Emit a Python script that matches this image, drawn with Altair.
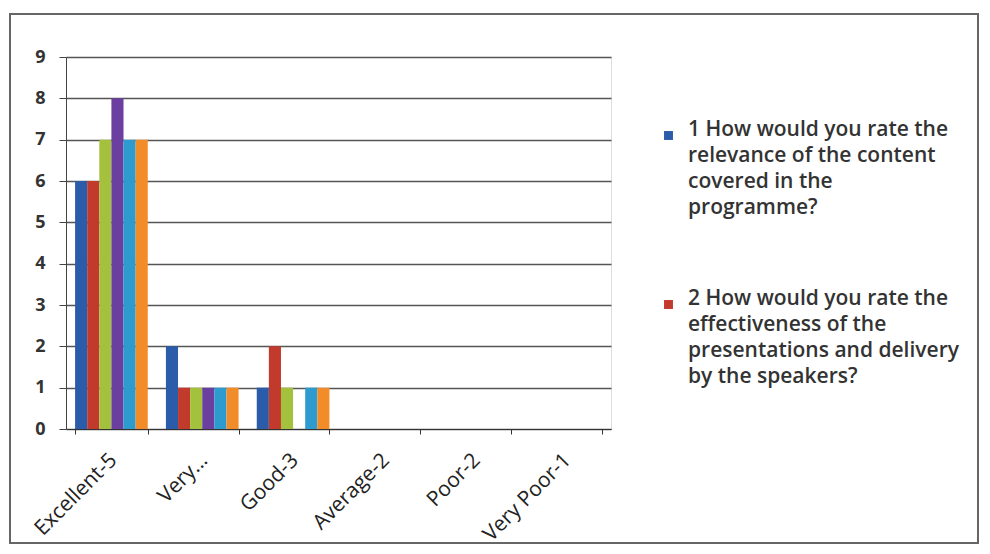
import altair as alt
import pandas as pd

categories = ["Excellent-5", "Very...", "Good-3", "Average-2", "Poor-2", "Very Poor-1"]
series_names = [
    "1 How would you rate the relevance of the content covered in the programme?",
    "2 How would you rate the effectiveness of the presentations and delivery by the speakers?",
    "3",
    "4",
    "5",
    "6",
]
s1 = [6, 2, 1, 0, 0, 0]
s2 = [6, 1, 2, 0, 0, 0]
s3 = [7, 1, 1, 0, 0, 0]
s4 = [8, 1, 0, 0, 0, 0]
s5 = [7, 1, 1, 0, 0, 0]
s6 = [7, 1, 1, 0, 0, 0]
colors = ["#2a5caa", "#c23a2c", "#a3c13d", "#6b3fa0", "#2e9bcf", "#f28c28"]
legend_lines = [
    ["1 How would you rate the", "relevance of the content", "covered in the", "programme?"],
    ["2 How would you rate the", "effectiveness of the", "presentations and delivery", "by the speakers?"],
]

rows = []
for name, vals in zip(series_names, [s1, s2, s3, s4, s5, s6]):
    for c, v in zip(categories, vals):
        rows.append({"category": c, "series": name, "value": v})
df = pd.DataFrame(rows)

def js_list(lines):
    return "[" + ",".join("'" + l + "'" for l in lines) + "]"

label_expr = (
    f"datum.label == '{series_names[0]}' ? {js_list(legend_lines[0])} : "
    f"datum.label == '{series_names[1]}' ? {js_list(legend_lines[1])} : datum.label"
)

FONT = "Open Sans"
W, H = 545, 372

bars = alt.Chart(df).mark_bar().encode(
    x=alt.X(
        "category:N",
        sort=categories,
        scale=alt.Scale(paddingInner=0.2, paddingOuter=0.1),
        axis=alt.Axis(
            title=None,
            labelAngle=-45,
            labelAlign="right",
            labelBaseline="top",
            labelFont=FONT,
            labelFontSize=21,
            labelColor="#222",
            labelPadding=15,
            labelOffset=-6,
            tickBand="extent",
            tickSize=5,
            tickColor="#333",
            domainColor="#333",
            grid=False,
        ),
    ),
    xOffset=alt.XOffset("series:N", sort=series_names),
    y=alt.Y(
        "value:Q",
        scale=alt.Scale(domain=[0, 9], nice=False),
        axis=alt.Axis(
            title=None,
            values=list(range(10)),
            labelFont=FONT,
            labelFontSize=18,
            labelFontWeight="bold",
            labelColor="#333",
            labelPadding=14,
            tickSize=7,
            tickColor="#444",
            domainColor="#444",
            gridColor="#555",
            gridWidth=1.3,
        ),
    ),
    color=alt.Color(
        "series:N",
        sort=series_names,
        scale=alt.Scale(domain=series_names, range=colors),
        legend=alt.Legend(
            title=None,
            values=series_names[:2],
            orient="none",
            legendX=592,
            legendY=68,
            symbolType="square",
            symbolSize=80,
            symbolStrokeWidth=0,
            labelExpr=label_expr,
            labelFont=FONT,
            labelFontSize=21,
            labelFontWeight=600,
            labelColor="#333",
            labelBaseline="alphabetic",
            labelOffset=9,
            labelLimit=0,
            rowPadding=69,
        ),
    ),
)

frame = alt.Chart(pd.DataFrame({"a": [0]})).mark_rect(
    fill=None, stroke="#666", strokeWidth=2
).encode(
    x=alt.value(-56), x2=alt.value(912),
    y=alt.value(-43), y2=alt.value(486),
)

chart = (
    alt.layer(frame, bars)
    .properties(
        width=W, height=H,
        padding={"left": 1, "top": 5, "right": 0, "bottom": 0},
    )
    .configure_view(stroke=None)
    .configure(background="white", style={"guide-label": {"lineHeight": 26}})
)

chart.save("out.html", embed_options={"renderer": "svg", "actions": False})
